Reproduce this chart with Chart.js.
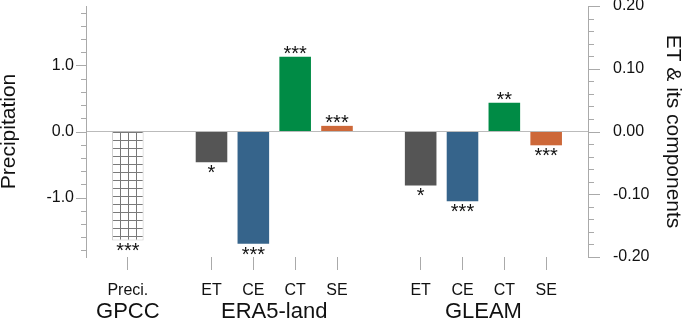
<!DOCTYPE html>
<html>
<head>
<meta charset="utf-8">
<script src="https://cdn.jsdelivr.net/npm/chart.js@4/dist/chart.umd.min.js"></script>
<style>
  html, body { margin: 0; padding: 0; background: #fff; }
  #wrap { width: 685px; height: 323px; }
</style>
</head>
<body>
<div id="wrap"><canvas id="chart" width="685" height="323"></canvas></div>
<script>
// x slots: empty slots keep the gaps between the data sources
const categories = ['', 'Preci.', '', 'ET', 'CE', 'CT', 'SE', '', 'ET', 'CE', 'CT', 'SE', ''];
const groupNames = ['GPCC', 'ERA5-land', 'GLEAM'];
const groupSlots = [[1, 1], [3, 6], [8, 11]];

// values
const gpccPreci = [-1.65];
const era5Values = [-0.049, -0.179, 0.119, 0.009];   // ET, CE, CT, SE
const gleamValues = [-0.086, -0.111, 0.046, -0.022];

// significance marks
const gpccStars = ['***'];
const era5Stars = ['*', '***', '***', '***'];
const gleamStars = ['*', '***', '**', '***'];

const componentColors = ['#555555', '#36648B', '#008B45', '#CD6839'];

// axis ticks
const leftTickValues = [1.0, 0.0, -1.0];
const leftTickLabels = ['1.0', '0.0', '-1.0'];
const rightTickValues = [0.2, 0.1, 0.0, -0.1, -0.2];
const rightTickLabels = ['0.20', '0.10', '0.00', '-0.10', '-0.20'];

const FONT = '"Liberation Sans", Arial, Helvetica, sans-serif';
const AXIS_GREY = '#aaaaaa';

// 组装数据，按槽位放
const preciData = categories.map(() => null);
preciData[groupSlots[0][0]] = gpccPreci[0];
const etData = categories.map(() => null);
const etColors = categories.map(() => 'rgba(0,0,0,0)');
const starsBySlot = categories.map(() => '');
starsBySlot[groupSlots[0][0]] = gpccStars[0];
[[era5Values, era5Stars, groupSlots[1]], [gleamValues, gleamStars, groupSlots[2]]].forEach(([vals, stars, span]) => {
    vals.forEach((v, i) => {
        etData[span[0] + i] = v;
        etColors[span[0] + i] = componentColors[i];
        starsBySlot[span[0] + i] = stars[i];
    });
});

// 网格填充
function makeGridPattern() {
    const c = document.createElement('canvas');
    c.width = 8; c.height = 8;
    const g = c.getContext('2d');
    g.fillStyle = '#ffffff';
    g.fillRect(0, 0, 8, 8);
    g.fillStyle = '#777777';
    g.fillRect(0, 0, 1, 8);
    g.fillStyle = '#7a7a7a';
    g.fillRect(0, 4, 8, 1);
    return document.getElementById('chart').getContext('2d').createPattern(c, 'repeat');
}

function minorTicks(min, max, step) {
    const out = [];
    const n = Math.round((max - min) / step);
    for (let i = 0; i <= n; i++) out.push({ value: Math.round((min + i * step) * 1000) / 1000 });
    return out;
}

function isMajor(values, v) {
    return values.some(m => Math.abs(m - v) < 1e-6);
}

function noPad(s) {
    s.paddingTop = 0;
    s.paddingBottom = 0;
}

const tickMarks = {
    id: 'tickMarks',
    afterDraw(chart) {
        const ctx = chart.ctx;
        ctx.save();
        ctx.strokeStyle = AXIS_GREY;
        ctx.lineWidth = 1;
        const y = chart.scales.y, y2 = chart.scales.y2;
        y.ticks.forEach(t => {
            const py = Math.round(y.getPixelForValue(t.value)) + 0.5;
            const len = isMajor(leftTickValues, t.value) ? 10 : 5;
            ctx.beginPath();
            ctx.moveTo(y.right - len, py);
            ctx.lineTo(y.right, py);
            ctx.stroke();
        });
        y2.ticks.forEach(t => {
            const py = Math.round(y2.getPixelForValue(t.value)) + 0.5;
            const len = isMajor(rightTickValues, t.value) ? 12 : 6;
            ctx.beginPath();
            ctx.moveTo(y2.left, py);
            ctx.lineTo(y2.left + len, py);
            ctx.stroke();
        });
        ctx.restore();
    }
};

const starLabels = {
    id: 'starLabels',
    afterDatasetsDraw(chart) {
        const ctx = chart.ctx;
        ctx.save();
        ctx.fillStyle = '#111';
        ctx.font = '20px ' + FONT;
        ctx.textAlign = 'center';
        ctx.textBaseline = 'alphabetic';
        chart.data.datasets.forEach((ds, di) => {
            const meta = chart.getDatasetMeta(di);
            meta.data.forEach((bar, i) => {
                const v = ds.data[i];
                if (v === null || v === undefined) return;
                const s = starsBySlot[i];
                if (v < 0) ctx.fillText(s, bar.x, bar.y + 17);
                else ctx.fillText(s, bar.x, bar.y + 3);
            });
        });
        ctx.restore();
    }
};

const groupLabels = {
    id: 'groupLabels',
    afterDraw(chart) {
        const ctx = chart.ctx;
        const x = chart.scales.x;
        ctx.save();
        ctx.fillStyle = '#111';
        ctx.font = '22px ' + FONT;
        ctx.textAlign = 'center';
        ctx.textBaseline = 'middle';
        groupNames.forEach((name, i) => {
            const [a, b] = groupSlots[i];
            const px = (x.getPixelForValue(a) + x.getPixelForValue(b)) / 2;
            ctx.fillText(name, px, 312);
        });
        ctx.restore();
    }
};

new Chart(document.getElementById('chart'), {
    type: 'bar',
    data: {
        labels: categories,
        datasets: [{
            label: 'Precipitation',
            data: preciData,
            yAxisID: 'y',
            backgroundColor: makeGridPattern(),
            borderColor: '#cccccc',
            borderWidth: 1,
            grouped: false,
            categoryPercentage: 1,
            barPercentage: 0.755
        }, {
            label: 'ET & its components',
            data: etData,
            yAxisID: 'y2',
            backgroundColor: etColors,
            borderWidth: 0,
            grouped: false,
            categoryPercentage: 1,
            barPercentage: 0.755
        }]
    },
    options: {
        responsive: false,
        devicePixelRatio: 1,
        animation: false,
        layout: { padding: { top: 6, left: 0, right: 0, bottom: 0 } },
        plugins: { legend: { display: false }, tooltip: { enabled: false } },
        scales: {
            x: {
                type: 'category',
                offset: false,
                border: { display: false },
                grid: {
                    display: true,
                    offset: false,
                    drawOnChartArea: false,
                    drawTicks: true,
                    tickLength: 13,
                    tickColor: c => (categories[c.index] ? AXIS_GREY : 'rgba(0,0,0,0)')
                },
                ticks: {
                    autoSkip: false,
                    maxRotation: 0,
                    padding: 11,
                    color: '#111',
                    font: { family: FONT, size: 16 }
                },
                afterFit: s => {
                    s.height = 66;
                    s.paddingLeft = 0;
                    s.paddingRight = 0;
                }
            },
            y: {
                position: 'left',
                min: -1.9,
                max: 1.9,
                afterBuildTicks: s => { s.ticks = minorTicks(-1.8, 1.8, 0.2); },
                border: { display: true, color: AXIS_GREY },
                grid: {
                    drawOnChartArea: true,
                    drawTicks: true,
                    tickLength: 10,
                    tickColor: 'rgba(0,0,0,0)',
                    color: c => (c.tick && Math.abs(c.tick.value) < 1e-6 ? '#bbbbbb' : 'rgba(0,0,0,0)')
                },
                ticks: {
                    autoSkip: false,
                    padding: 2,
                    color: '#111',
                    font: { family: FONT, size: 16 },
                    callback: v => {
                        const k = leftTickValues.findIndex(m => Math.abs(m - v) < 1e-6);
                        return k < 0 ? '' : leftTickLabels[k];
                    }
                },
                title: {
                    display: true,
                    text: 'Precipitation',
                    color: '#111',
                    font: { family: FONT, size: 21 },
                    padding: { top: -3, bottom: 0 }
                },
                afterFit: s => { s.width = 86; noPad(s); }
            },
            y2: {
                position: 'right',
                min: -0.2,
                max: 0.2,
                afterBuildTicks: s => { s.ticks = minorTicks(-0.2, 0.2, 0.02); },
                border: { display: true, color: AXIS_GREY },
                grid: {
                    drawOnChartArea: false,
                    drawTicks: true,
                    tickLength: 12,
                    tickColor: 'rgba(0,0,0,0)'
                },
                ticks: {
                    autoSkip: false,
                    padding: 13,
                    color: '#111',
                    font: { family: FONT, size: 16 },
                    callback: v => {
                        const k = rightTickValues.findIndex(m => Math.abs(m - v) < 1e-6);
                        return k < 0 ? '' : rightTickLabels[k];
                    }
                },
                title: {
                    display: true,
                    text: 'ET & its components',
                    color: '#111',
                    font: { family: FONT, size: 21 },
                    padding: 0
                },
                afterFit: s => { s.width = 97; noPad(s); }
            }
        }
    },
    plugins: [tickMarks, starLabels, groupLabels]
});
</script>
</body>
</html>
